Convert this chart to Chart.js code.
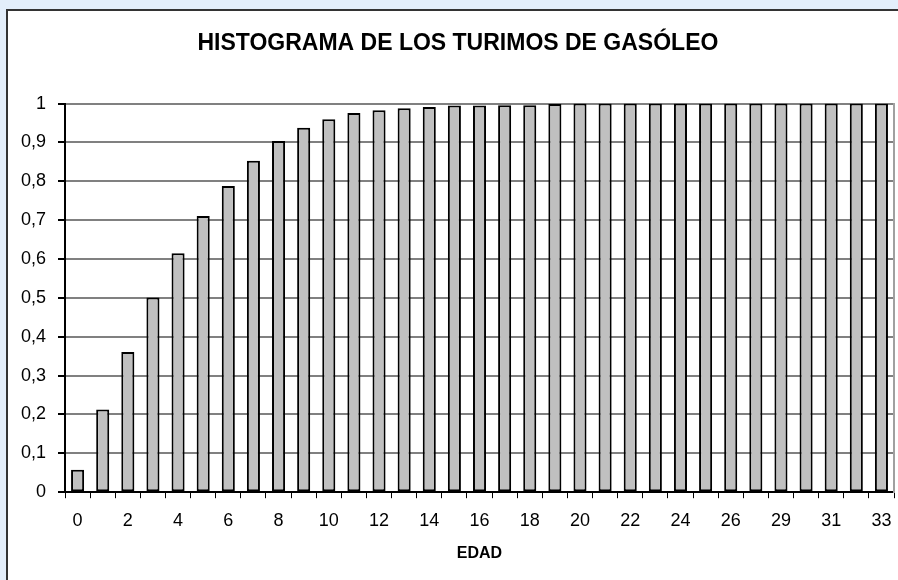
<!DOCTYPE html>
<html lang="es">
<head>
  <meta charset="UTF-8" />
  <title>Histograma de los turimos de gasóleo</title>
  <script src="https://cdn.jsdelivr.net/npm/chart.js"></script>
  <style>
    body {
      margin: 0;
      background-color: #e3eefa;
      overflow: hidden;
    }
    .marco {
      position: absolute;
      left: 6px;
      top: 9px;
      width: 904px;
      height: 580px;
      background: #fff;
      border-left: 2px solid #333;
      border-top: 2px solid #333;
    }
  </style>
</head>
<body>
  <div class="marco">
    <canvas id="grafico" width="902" height="569"></canvas>
  </div>

  <script>
    // edades (la 28 no aparece en el original: tras 26 viene 29)
    const edades = ['0','1','2','3','4','5','6','7','8','9','10','11','12','13','14','15','16',
                    '17','18','19','20','21','22','23','24','25','26','27','29','30','31','32','33'];
    const frecuencias = [0.058, 0.213, 0.361, 0.501, 0.615, 0.711, 0.788, 0.853, 0.904, 0.938,
                         0.960, 0.976, 0.983, 0.988, 0.991, 0.995, 0.995, 0.996, 0.996, 0.999,
                         1, 1, 1, 1, 1, 1, 1, 1, 1, 1, 1, 1, 1];
    const marcasY = [0, 0.1, 0.2, 0.3, 0.4, 0.5, 0.6, 0.7, 0.8, 0.9, 1];

    const fuente = 'Arial, "Liberation Sans", sans-serif';

    const ctx = document.getElementById('grafico').getContext('2d');
    new Chart(ctx, {
      type: 'bar',
      data: {
        labels: edades,
        datasets: [{
          data: frecuencias,
          backgroundColor: '#c0c0c0',
          borderColor: '#000',
          borderWidth: 2,
          borderSkipped: false,
          barPercentage: 0.52,
          categoryPercentage: 1
        }]
      },
      options: {
        responsive: false,
        animation: false,
        layout: { padding: { left: 1, right: 16, bottom: 0 } },
        plugins: {
          legend: { display: false },
          tooltip: { enabled: false },
          title: {
            display: true,
            // dos espacios duros delante para centrar como en el original
            text: '\u00a0\u00a0HISTOGRAMA DE LOS TURIMOS DE GASÓLEO',
            color: '#000',
            font: { family: fuente, size: 23, weight: 'bold' },
            padding: { top: 19, bottom: 46 }
          }
        },
        scales: {
          x: {
            grid: {
              offset: true,
              drawOnChartArea: false,
              tickLength: 6,
              tickColor: '#000'
            },
            border: { color: '#000', width: 2 },
            ticks: {
              autoSkip: false,
              maxRotation: 0,
              padding: 12,
              color: '#000',
              font: { family: fuente, size: 18 },
              callback: function (v, i) { return i % 2 === 0 ? edades[i] : ''; }
            },
            title: {
              display: true,
              text: 'EDAD',
              color: '#000',
              font: { family: fuente, size: 16, weight: 'bold' },
              padding: { top: 0, bottom: 17 }
            }
          },
          y: {
            min: 0,
            max: 1,
            afterBuildTicks: function (axis) {
              axis.ticks = marcasY.map(v => ({ value: v }));
            },
            grid: {
              color: '#808080',
              lineWidth: 2,
              tickLength: 7,
              tickColor: '#000'
            },
            border: { color: '#000', width: 2 },
            ticks: {
              padding: 12,
              color: '#000',
              font: { family: fuente, size: 18 },
              callback: function (v) {
                if (v === 0) return '0';
                if (v === 1) return '1';
                return v.toFixed(1).replace('.', ',');
              }
            }
          },
          y2: {
            position: 'right',
            min: 0,
            max: 1,
            grid: { drawOnChartArea: false, drawTicks: false },
            border: { color: '#a0a0a0', width: 2 },
            ticks: { display: false }
          }
        }
      }
    });
  </script>
</body>
</html>
